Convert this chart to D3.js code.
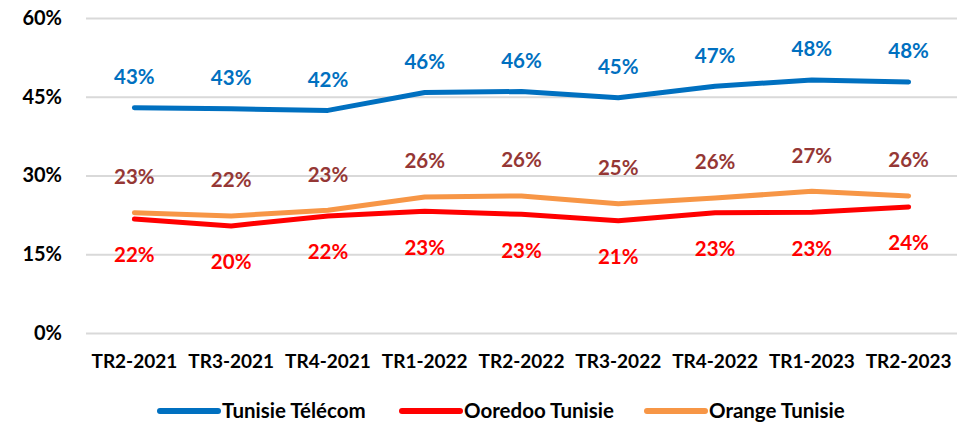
<!DOCTYPE html>
<html>
<head>
<meta charset="utf-8">
<script src="https://cdn.jsdelivr.net/npm/d3@7"></script>
<style>
  body { margin: 0; background: #fff; }
  svg { display: block; font-family: Lato, "Open Sans", sans-serif; font-weight: bold; }
</style>
</head>
<body>
<svg id="chart" width="963" height="425"></svg>
<script>
// quarters on the x axis
var quarters = ['TR2-2021', 'TR3-2021', 'TR4-2021', 'TR1-2022', 'TR2-2022',
  'TR3-2022', 'TR4-2022', 'TR1-2023', 'TR2-2023'];

// market share, in %
var tunisieTelecom = [42.9, 42.7, 42.4, 45.8, 46.0, 44.8, 47.0, 48.2, 47.8];
var ooredoo = [21.7, 20.4, 22.3, 23.2, 22.6, 21.4, 22.9, 23.0, 24.0];
var orange = [22.9, 22.3, 23.4, 25.9, 26.1, 24.6, 25.7, 27.0, 26.1];

var yTicks = [0, 15, 30, 45, 60];

var series = [
  { name: 'Tunisie Télécom', values: tunisieTelecom, color: '#0070C0', labelColor: '#0070C0', dy: -31 },
  { name: 'Ooredoo Tunisie', values: ooredoo, color: '#FF0000', labelColor: '#FF0000', dy: 36 },
  { name: 'Orange Tunisie', values: orange, color: '#F79646', labelColor: '#953735', dy: -36 }
];

var svg = d3.select('#chart');

var x = d3.scaleBand().domain(quarters).range([86, 957]);
var y = d3.scaleLinear().domain([0, 60]).range([333, 18]);

// gridlines + y labels
var yAxis = svg.append('g')
  .attr('transform', 'translate(86,0)')
  .call(d3.axisLeft(y).tickValues(yTicks).tickSize(-871).tickPadding(24)
    .tickFormat(d => d + '%'));
yAxis.select('.domain').remove();
yAxis.selectAll('line').attr('stroke', '#D9D9D9').attr('stroke-width', 2);
yAxis.selectAll('text')
  .attr('fill', '#000')
  .style('font-size', '20px')
  .style('font-family', 'Lato, sans-serif')
  .style('font-weight', 'bold');

// x labels
var xAxis = svg.append('g')
  .attr('transform', 'translate(0,333)')
  .call(d3.axisBottom(x).tickSize(0).tickPadding(22));
xAxis.select('.domain').remove();
xAxis.selectAll('text')
  .attr('fill', '#000')
  .style('font-size', '19px')
  .style('font-family', 'Lato, sans-serif')
  .style('font-weight', 'bold');

var line = d3.line()
  .x((d, i) => x(quarters[i]) + x.bandwidth() / 2)
  .y(d => y(d));

// draw order: blue, orange, red on top
[series[0], series[2], series[1]].forEach(function(s) {
  svg.append('path')
    .attr('d', line(s.values))
    .attr('fill', 'none')
    .attr('stroke', s.color)
    .attr('stroke-width', 5)
    .attr('stroke-linecap', 'round')
    .attr('stroke-linejoin', 'round');
});

series.forEach(function(s) {
  svg.append('g').selectAll('text')
    .data(s.values)
    .enter()
    .append('text')
    .attr('x', (d, i) => x(quarters[i]) + x.bandwidth() / 2)
    .attr('y', d => y(d) + s.dy)
    .attr('dy', '0.36em')
    .attr('text-anchor', 'middle')
    .attr('fill', s.labelColor)
    .style('font-size', '20.5px')
    .text(d => Math.round(d) + '%');
});

// legend
var legendX = [160, 402, 647];
var legend = svg.append('g').selectAll('g')
  .data(series)
  .enter()
  .append('g')
  .attr('transform', (d, i) => `translate(${legendX[i]},411)`);
legend.append('line')
  .attr('x1', 0).attr('x2', 58)
  .attr('stroke', d => d.color)
  .attr('stroke-width', 6)
  .attr('stroke-linecap', 'round');
legend.append('text')
  .attr('x', 62)
  .attr('dy', '0.36em')
  .attr('fill', '#000')
  .style('font-size', '20.5px')
  .text(d => d.name);
</script>
</body>
</html>
